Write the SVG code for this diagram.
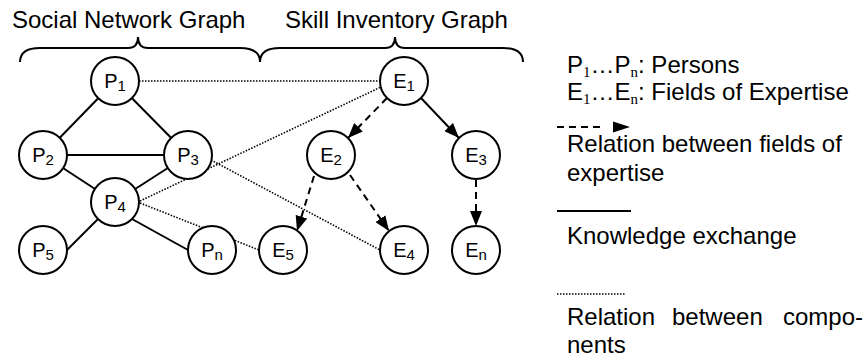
<svg xmlns="http://www.w3.org/2000/svg" width="867" height="358" viewBox="0 0 867 358">
<style>
.t{font-family:"Liberation Sans",Arial,sans-serif;fill:#000}
.big{font-size:24px}
.lbl{font-size:20px}
.sub{font-size:15px}
.ssub{font-family:"Liberation Serif","Times New Roman",serif;font-size:15px}
.node{fill:#fff;stroke:#000;stroke-width:2}
.solid{stroke:#000;stroke-width:2;fill:none}
.dash{stroke:#000;stroke-width:2;fill:none;stroke-dasharray:7 5}
.dot{stroke:#000;stroke-width:1.6;fill:none;stroke-dasharray:1.5 1.5}
.brace{stroke:#000;stroke-width:2;fill:none}
</style>
<defs>
<marker id="arr" viewBox="0 0 15 12" refX="15" refY="6" markerWidth="15" markerHeight="12" markerUnits="userSpaceOnUse" orient="auto">
<path d="M0,0 L15,6 L0,12 z" fill="#000"/>
</marker>
</defs>
<rect width="867" height="358" fill="#fff"/>
<g id="titles">
<text class="t big" x="12" y="28">Social Network Graph</text>
<text class="t big" x="285" y="28">Skill Inventory Graph</text>
<path class="brace" d="M20,62 Q20,48 40,48 L128,48 Q138,48 138,37 Q138,48 148,48 L240,48 Q260,48 260,62"/>
<path class="brace" d="M260,62 Q260,48 280,48 L385,48 Q395,48 395,37 Q395,48 405,48 L503,48 Q523,48 523,62"/>
</g>
<g id="connectors">
<line class="dot" x1="139" y1="81" x2="380" y2="81"/>
<line class="dot" x1="140" y1="201" x2="381" y2="87"/>
<line class="dot" x1="211" y1="160" x2="380" y2="250"/>
<line class="dot" x1="140" y1="203" x2="259" y2="250"/>
<line class="solid" x1="115" y1="81" x2="43" y2="155"/>
<line class="solid" x1="115" y1="81" x2="188" y2="155"/>
<line class="solid" x1="43" y1="155" x2="188" y2="155"/>
<line class="solid" x1="43" y1="155" x2="115" y2="202"/>
<line class="solid" x1="188" y1="155" x2="115" y2="202"/>
<line class="solid" x1="98" y1="219" x2="67" y2="250"/>
<line class="solid" x1="132" y1="219" x2="188" y2="250"/>
<line class="solid" x1="421" y1="98" x2="459" y2="138" marker-end="url(#arr)"/>
<line class="dash" x1="387" y1="98" x2="348" y2="138" marker-end="url(#arr)"/>
<line class="dash" x1="314" y1="176" x2="297" y2="231" marker-end="url(#arr)"/>
<line class="dash" x1="350" y1="175" x2="389" y2="231" marker-end="url(#arr)"/>
<line class="dash" x1="476" y1="180" x2="476" y2="226" marker-end="url(#arr)"/>
</g>
<g id="P1"><circle class="node" cx="115" cy="81" r="24"/><text class="t lbl" x="115" y="88" text-anchor="middle">P<tspan class="sub" dy="3">1</tspan></text></g>
<g id="P2"><circle class="node" cx="43" cy="155" r="24"/><text class="t lbl" x="43" y="162" text-anchor="middle">P<tspan class="sub" dy="3">2</tspan></text></g>
<g id="P3"><circle class="node" cx="188" cy="155" r="24"/><text class="t lbl" x="188" y="162" text-anchor="middle">P<tspan class="sub" dy="3">3</tspan></text></g>
<g id="P4"><circle class="node" cx="115" cy="202" r="24"/><text class="t lbl" x="115" y="209" text-anchor="middle">P<tspan class="sub" dy="3">4</tspan></text></g>
<g id="P5"><circle class="node" cx="43" cy="250" r="24"/><text class="t lbl" x="43" y="257" text-anchor="middle">P<tspan class="sub" dy="3">5</tspan></text></g>
<g id="Pn"><circle class="node" cx="212" cy="250" r="24"/><text class="t lbl" x="212" y="257" text-anchor="middle">P<tspan class="sub" dy="3">n</tspan></text></g>
<g id="E1"><circle class="node" cx="404" cy="81" r="24"/><text class="t lbl" x="404" y="88" text-anchor="middle">E<tspan class="sub" dy="3">1</tspan></text></g>
<g id="E2"><circle class="node" cx="331" cy="155" r="24"/><text class="t lbl" x="331" y="162" text-anchor="middle">E<tspan class="sub" dy="3">2</tspan></text></g>
<g id="E3"><circle class="node" cx="476" cy="155" r="24"/><text class="t lbl" x="476" y="162" text-anchor="middle">E<tspan class="sub" dy="3">3</tspan></text></g>
<g id="E5"><circle class="node" cx="283" cy="250" r="24"/><text class="t lbl" x="283" y="257" text-anchor="middle">E<tspan class="sub" dy="3">5</tspan></text></g>
<g id="E4"><circle class="node" cx="404" cy="250" r="24"/><text class="t lbl" x="404" y="257" text-anchor="middle">E<tspan class="sub" dy="3">4</tspan></text></g>
<g id="En"><circle class="node" cx="476" cy="250" r="24"/><text class="t lbl" x="476" y="257" text-anchor="middle">E<tspan class="sub" dy="3">n</tspan></text></g>
<g id="legend">
<text class="t big" x="567" y="73">P<tspan class="ssub" dy="4">1</tspan><tspan dy="-4">…P</tspan><tspan class="ssub" dy="4">n</tspan><tspan dy="-4">: Persons</tspan></text>
<text class="t big" x="567" y="100">E<tspan class="ssub" dy="4">1</tspan><tspan dy="-4">…E</tspan><tspan class="ssub" dy="4">n</tspan><tspan dy="-4">: Fields of Expertise</tspan></text>
<line class="dash" x1="557" y1="127" x2="605" y2="127" stroke-dasharray="8 5"/>
<path d="M613,121.5 L630,127 L613,132.5 z" fill="#000"/>
<text class="t big" x="567" y="152">Relation between fields of</text>
<text class="t big" x="567" y="181">expertise</text>
<line class="solid" x1="557" y1="211" x2="631" y2="211"/>
<text class="t big" x="567" y="244">Knowledge exchange</text>
<line class="dot" x1="557" y1="294" x2="625" y2="294" stroke-width="1"/>
<text class="t big" x="567" y="325">Relation</text>
<text class="t big" x="672" y="325">between</text>
<text class="t big" x="783" y="325">compo-</text>
<text class="t big" x="567" y="353">nents</text>
</g>
</svg>
